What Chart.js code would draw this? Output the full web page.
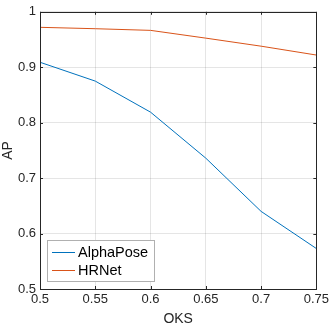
<!DOCTYPE html>
<html><head><meta charset="utf-8">
<script src="https://cdn.jsdelivr.net/npm/chart.js@4.4.0/dist/chart.umd.min.js"></script>
<style>html,body{margin:0;padding:0;background:#fff}#wrap{width:332px;height:328px}</style>
</head><body><div id="wrap"><canvas id="c" width="332" height="328"></canvas></div>
<script>
const categories = [0.5, 0.55, 0.6, 0.65, 0.7, 0.75];
const alphaPose = [0.909, 0.875, 0.819, 0.736, 0.640, 0.573];
const hrNet = [0.972, 0.9695, 0.9665, 0.9525, 0.938, 0.922];
const xTicks = ['0.5','0.55','0.6','0.65','0.7','0.75'];
const yTicks = ['0.5','0.6','0.7','0.8','0.9','1'];
const seriesNames = ['AlphaPose','HRNet'];
const FONT = 'Liberation Sans, Arial, sans-serif';

const boxPlugin = {
  id: 'box',
  afterDraw(chart) {
    const {ctx, chartArea: a, scales} = chart;
    ctx.save();
    ctx.strokeStyle = '#262626'; ctx.lineWidth = 1;
    const tl = 3;
    ctx.beginPath();
    scales.x.ticks.forEach(t => {
      const px = Math.round(scales.x.getPixelForValue(t.value)) + 0.5;
      ctx.moveTo(px, a.bottom); ctx.lineTo(px, a.bottom - tl);
      ctx.moveTo(px, a.top); ctx.lineTo(px, a.top + tl);
    });
    scales.y.ticks.forEach(t => {
      const py = Math.round(scales.y.getPixelForValue(t.value)) + 0.5;
      ctx.moveTo(a.left, py); ctx.lineTo(a.left + tl, py);
      ctx.moveTo(a.right, py); ctx.lineTo(a.right - tl, py);
    });
    ctx.stroke();
    ctx.strokeRect(Math.round(a.left)+0.5, Math.round(a.top)+0.5, Math.round(a.right-a.left), Math.round(a.bottom-a.top));
    // legend
    const lx = 47.5, ly = 240.5, lw = 107, lh = 41;
    ctx.fillStyle = '#fff';
    ctx.fillRect(lx, ly, lw, lh);
    ctx.strokeStyle = '#b0b0b0';
    ctx.strokeRect(lx, ly, lw, lh);
    ctx.font = '14.5px ' + FONT;
    ctx.textBaseline = 'middle';
    chart.data.datasets.forEach((ds, i) => {
      const y = 252 + i * 18;
      ctx.strokeStyle = ds.borderColor; ctx.lineWidth = 1;
      ctx.beginPath(); ctx.moveTo(52, y + 0.5); ctx.lineTo(75, y + 0.5); ctx.stroke();
      ctx.fillStyle = '#000';
      ctx.fillText(ds.label, 78, y + 1);
    });
    ctx.restore();
  }
};

new Chart(document.getElementById('c'), {
  type: 'line',
  data: {
    datasets: [
      {label: seriesNames[0], data: categories.map((x,i)=>({x, y: alphaPose[i]})), borderColor: '#0072BD', borderWidth: 1, pointRadius: 0, tension: 0},
      {label: seriesNames[1], data: categories.map((x,i)=>({x, y: hrNet[i]})), borderColor: '#D95319', borderWidth: 1, pointRadius: 0, tension: 0}
    ]
  },
  options: {
    responsive: false, animation: false, devicePixelRatio: 1,
    layout: {padding: {top: 5, right: 13, left: 0, bottom: 0}},
    plugins: {legend: {display: false}, tooltip: {enabled: false}},
    scales: {
      x: {
        type: 'linear', min: 0.5, max: 0.75,
        afterBuildTicks: s => { s.ticks = categories.map(v => ({value: v})); },
        ticks: {callback: (v, i) => xTicks[i], color: '#262626', font: {family: FONT, size: 13}, padding: 3, maxRotation: 0},
        grid: {color: 'rgba(0,0,0,0.1)', drawTicks: false},
        border: {display: false},
        title: {display: true, text: 'OKS', color: '#262626', font: {family: FONT, size: 14}, padding: {top: 4, bottom: 0}},
        afterFit: s => { s.height = 39; }
      },
      y: {
        min: 0.5, max: 1,
        afterBuildTicks: s => { s.ticks = yTicks.map(v => ({value: parseFloat(v)})); },
        ticks: {callback: (v, i) => yTicks[i], color: '#262626', font: {family: FONT, size: 13}, padding: 4},
        grid: {color: 'rgba(0,0,0,0.1)', drawTicks: false},
        border: {display: false},
        title: {display: true, text: 'AP', color: '#262626', font: {family: FONT, size: 14}, padding: {top: 0, bottom: 2}},
        afterFit: s => { s.width = 40; }
      }
    }
  },
  plugins: [boxPlugin]
});
</script></body></html>
